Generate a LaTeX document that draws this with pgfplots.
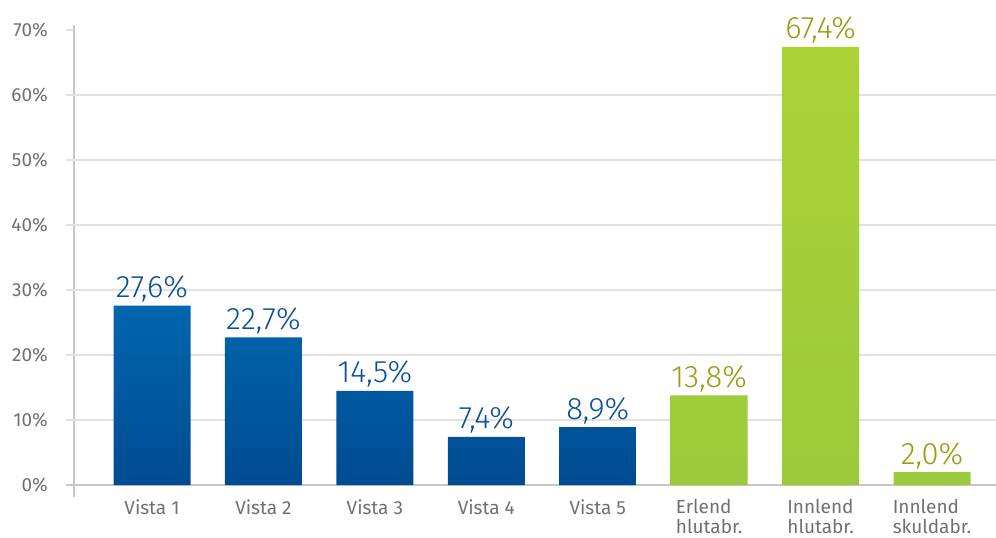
\documentclass[border=0pt]{standalone}
\usepackage{pgfplots}
\pgfplotsset{compat=1.18}
\usepackage{fontspec}
\setmainfont{Fira Sans}[UprightFont={* Light}]
\newfontfamily\regfont{Fira Sans}
\definecolor{bluetop}{HTML}{0066AE}
\definecolor{bluebot}{HTML}{004B91}
\definecolor{greentop}{HTML}{ACD236}
\definecolor{greenbot}{HTML}{9BCA3C}
\definecolor{bluetxt}{HTML}{0B4F98}
\definecolor{greentxt}{HTML}{9C9A10}
\definecolor{ticktxt}{HTML}{707070}
\definecolor{gridc}{HTML}{E2E2E2}
\definecolor{axisc}{HTML}{C6C6C6}
\begin{document}
\begin{tikzpicture}
\begin{axis}[
  at={(0,0)}, anchor=south west,
  scale only axis,
  width=922bp, height=472bp,
  xmin=-0.70, xmax=7.574,
  ymin=-1.846, ymax=70.77,
  ybar, bar width=77bp, bar shift=0pt,
  axis x line*=bottom,
  x axis line style={draw=none},
  axis y line*=left,
  y axis line style={draw=axisc, line width=2bp, -},
  ytick={0,10,...,70},
  yticklabel={\pgfmathprintnumber{\tick}\%},
  /pgf/number format/assume math mode=true,
  tick align=outside,
  major tick length=8bp,
  ytick style={draw=gridc, line width=1.5bp},
  xtick style={draw=none},
  ymajorgrids=false,
  yticklabel style={font=\regfont\fontsize{19bp}{21bp}\selectfont, text=ticktxt, inner sep=0pt, xshift=-18bp},
  xtick={0,...,7},
  xticklabels={Vista 1, Vista 2, Vista 3, Vista 4, Vista 5, {Erlend\\hlutabr.}, {Innlend\\hlutabr.}, {Innlend\\skuldabr.}},
  xticklabel style={font=\regfont\fontsize{19bp}{20bp}\selectfont, text=ticktxt, align=left, inner sep=0pt, anchor=north, yshift=6bp},
  clip=false,
  nodes near coords={\pgfmathprintnumber[fixed,fixed zerofill,precision=1,use comma]{\pgfplotspointmeta}\%},
  nodes near coords style={font=\fontsize{31bp}{33bp}\selectfont, anchor=base, yshift=8bp, inner sep=0pt},
]
% gridlines
\foreach \g in {10,20,30,40,50,60} {
  \edef\tmp{\noexpand\draw[gridc, line width=1.5bp] ([xshift=-8bp]axis cs:-0.70,\g) -- (axis cs:7.574,\g);}
  \tmp
}
\draw[axisc, line width=2bp] ([xshift=-8bp]axis cs:-0.70,0) -- (axis cs:7.574,0);
\addplot[draw=none, top color=bluetop, bottom color=bluebot, nodes near coords style={text=bluetxt}]
  coordinates {(0,27.6) (1,22.7) (2,14.5) (3,7.4) (4,8.9)};
\addplot[draw=none, top color=greentop, bottom color=greenbot, nodes near coords style={text=greentxt}]
  coordinates {(5,13.8) (6,67.4) (7,2.0)};
\end{axis}
\pgfresetboundingbox
\path (-74bp,-41bp) rectangle (922bp,497bp);
\end{tikzpicture}
\end{document}
